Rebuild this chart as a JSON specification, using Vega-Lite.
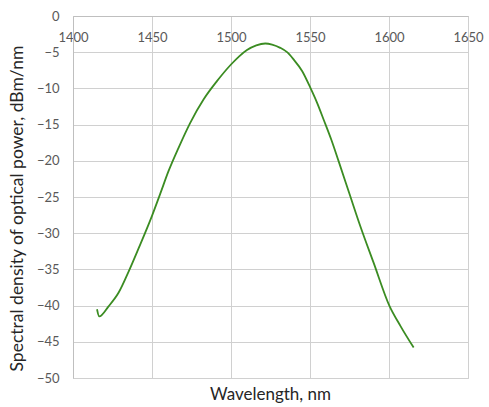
{
  "$schema": "https://vega.github.io/schema/vega-lite/v6.json",
  "width": 395,
  "height": 362,
  "autosize": {"type": "none"},
  "padding": {"left": 73, "top": 16, "right": 21, "bottom": 29},
  "background": "white",
  "config": {
    "view": {"stroke": "#d0d0d0", "strokeWidth": 1},
    "font": "Lato"
  },
  "title": {
    "text": "Wavelength, nm",
    "orient": "bottom",
    "anchor": "middle",
    "offset": 2,
    "fontSize": 17,
    "fontWeight": "normal",
    "color": "#262626",
    "font": "Lato"
  },
  "data": {
    "values": [
      {"wl": 1415.2, "p": -40.5},
      {"wl": 1416.6, "p": -41.5},
      {"wl": 1422.5, "p": -40.1},
      {"wl": 1428.9, "p": -38.2},
      {"wl": 1435.2, "p": -35.3},
      {"wl": 1441.5, "p": -32.1},
      {"wl": 1450.0, "p": -27.6},
      {"wl": 1455.3, "p": -24.5},
      {"wl": 1460.5, "p": -21.4},
      {"wl": 1466.8, "p": -18.2},
      {"wl": 1474.2, "p": -14.75},
      {"wl": 1482.7, "p": -11.5},
      {"wl": 1491.1, "p": -9.0},
      {"wl": 1500.0, "p": -6.7},
      {"wl": 1505.0, "p": -5.6},
      {"wl": 1510.1, "p": -4.7},
      {"wl": 1516.0, "p": -4.05},
      {"wl": 1521.7, "p": -3.8},
      {"wl": 1526.0, "p": -3.95},
      {"wl": 1531.2, "p": -4.4},
      {"wl": 1535.5, "p": -5.0},
      {"wl": 1539.6, "p": -6.0},
      {"wl": 1545.0, "p": -7.6},
      {"wl": 1550.2, "p": -9.9},
      {"wl": 1554.5, "p": -12.0},
      {"wl": 1558.6, "p": -14.3},
      {"wl": 1563.5, "p": -17.1},
      {"wl": 1568.1, "p": -20.05},
      {"wl": 1575.5, "p": -24.9},
      {"wl": 1581.8, "p": -29.0},
      {"wl": 1590.3, "p": -34.1},
      {"wl": 1600.2, "p": -40.0},
      {"wl": 1607.2, "p": -42.8},
      {"wl": 1615.6, "p": -45.8}
    ]
  },
  "mark": {"type": "line", "color": "#3b8c22", "strokeWidth": 1.8, "interpolate": "monotone"},
  "encoding": {
    "x": {
      "field": "wl",
      "type": "quantitative",
      "scale": {"domain": [1400, 1650], "nice": false, "zero": false},
      "axis": {
        "orient": "top",
        "title": null,
        "format": "d",
        "values": [1400, 1450, 1500, 1550, 1600, 1650],
        "ticks": false,
        "domain": true,
        "domainColor": "#bfbfbf",
        "grid": true,
        "gridColor": "#d0d0d0",
        "labelBaseline": "top",
        "labelPadding": -15,
        "labelFontSize": 13,
        "labelColor": "#595959",
        "labelFlush": false
      }
    },
    "y": {
      "field": "p",
      "type": "quantitative",
      "scale": {"domain": [-50, 0], "nice": false},
      "axis": {
        "title": "Spectral density of optical power, dBm/nm",
        "titleFontSize": 17.5,
        "titleFontWeight": "normal",
        "titleColor": "#262626",
        "titlePadding": 10,
        "titleY": 192,
        "values": [0, -5, -10, -15, -20, -25, -30, -35, -40, -45, -50],
        "ticks": false,
        "domain": true,
        "domainColor": "#bfbfbf",
        "grid": true,
        "gridColor": "#d0d0d0",
        "labelPadding": 14,
        "labelFontSize": 13,
        "labelColor": "#595959"
      }
    }
  }
}
